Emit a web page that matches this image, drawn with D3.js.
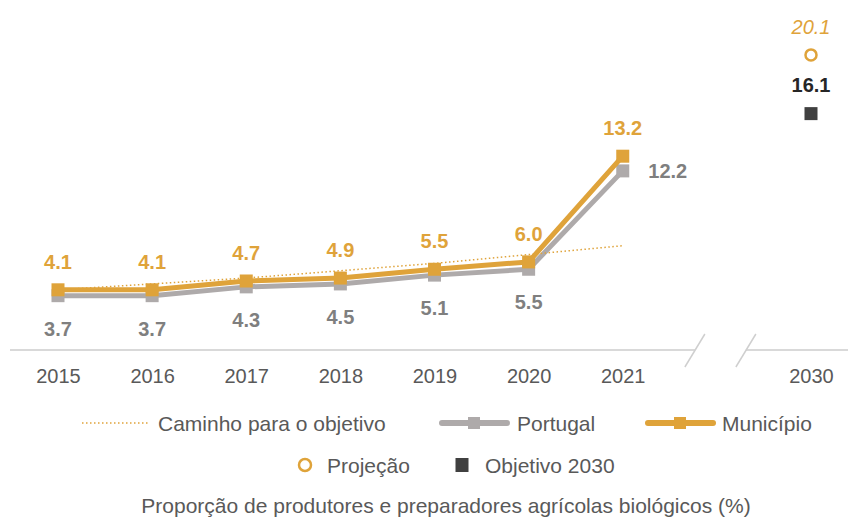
<!DOCTYPE html>
<html>
<head>
<meta charset="utf-8">
<script src="https://cdn.jsdelivr.net/npm/d3@7"></script>
<style>
  html, body { margin: 0; padding: 0; background: #fff; }
  svg { display: block; font-family: "Liberation Sans", Arial, sans-serif; }
</style>
</head>
<body>
<svg id="chart" width="848" height="520"></svg>
<script>
const years = ["2015", "2016", "2017", "2018", "2019", "2020", "2021"];
const municipio = [4.1, 4.1, 4.7, 4.9, 5.5, 6.0, 13.2];
const portugal = [3.7, 3.7, 4.3, 4.5, 5.1, 5.5, 12.2];
const caminho = [4.1, 4.5, 4.9, 5.4, 5.9, 6.5, 7.1];
const targetYear = "2030";
const projecao = 20.1;
const objetivo = 16.1;

const GOLD = "#DFA33A";
const GREY_LINE = "#AEAAAA";
const GREY_TEXT = "#7F7F7F";
const DARK = "#404040";
const AXIS_TEXT = "#595959";

const svg = d3.select("#chart");

const x = d3.scalePoint()
  .domain([...years, "break", targetYear])
  .range([58, 811]);

const y = d3.scaleLinear()
  .domain([0, 22])
  .range([350, 27]);

const AXIS_Y = y(0);
const breakX = x("break");

// axis line, split at the break
svg.append("line")
  .attr("x1", 10).attr("x2", breakX - 22)
  .attr("y1", AXIS_Y).attr("y2", AXIS_Y)
  .attr("stroke", "#D9D9D9").attr("stroke-width", 2);
svg.append("line")
  .attr("x1", breakX + 29).attr("x2", 848)
  .attr("y1", AXIS_Y).attr("y2", AXIS_Y)
  .attr("stroke", "#D9D9D9").attr("stroke-width", 2);

[-22, 29].forEach((dx) => {
  svg.append("line")
    .attr("x1", breakX + dx - 10).attr("y1", AXIS_Y + 17)
    .attr("x2", breakX + dx + 10).attr("y2", AXIS_Y - 16)
    .attr("stroke", "#CFCFCF").attr("stroke-width", 1.5);
});

const xAxis = svg.append("g")
  .attr("transform", `translate(0,${AXIS_Y})`)
  .call(d3.axisBottom(x).tickSize(0).tickPadding(19)
    .tickFormat((d) => (d === "break" ? "" : d)));
xAxis.select(".domain").remove();
xAxis.selectAll("text")
  .attr("font-family", "Liberation Sans, Arial, sans-serif")
  .attr("font-size", 20)
  .attr("fill", AXIS_TEXT);

const line = d3.line()
  .x((d, i) => x(years[i]))
  .y((d) => y(d));

// Portugal
svg.append("path")
  .datum(portugal)
  .attr("d", line)
  .attr("fill", "none")
  .attr("stroke", GREY_LINE)
  .attr("stroke-width", 5)
  .attr("stroke-linejoin", "round");
svg.append("g").selectAll("rect")
  .data(portugal)
  .join("rect")
  .attr("x", (d, i) => x(years[i]) - 6.5)
  .attr("y", (d) => y(d) - 6.5)
  .attr("width", 13).attr("height", 13)
  .attr("fill", GREY_LINE);

// Municipio
svg.append("path")
  .datum(municipio)
  .attr("d", line)
  .attr("fill", "none")
  .attr("stroke", GOLD)
  .attr("stroke-width", 5)
  .attr("stroke-linejoin", "round");
svg.append("g").selectAll("rect")
  .data(municipio)
  .join("rect")
  .attr("x", (d, i) => x(years[i]) - 6.5)
  .attr("y", (d) => y(d) - 6.5)
  .attr("width", 13).attr("height", 13)
  .attr("fill", GOLD);

// Caminho para o objetivo
svg.append("path")
  .datum(caminho)
  .attr("d", line)
  .attr("fill", "none")
  .attr("stroke", GOLD)
  .attr("stroke-width", 1.5)
  .attr("stroke-dasharray", "1.5,2.5");

// labels
const labels = svg.append("g")
  .attr("font-size", 20)
  .attr("font-weight", 700)
  .attr("text-anchor", "middle")
  .attr("dominant-baseline", "central");

labels.selectAll("text.mun")
  .data(municipio)
  .join("text")
  .attr("class", "mun")
  .attr("x", (d, i) => x(years[i]))
  .attr("y", (d) => y(d) - 28)
  .attr("fill", GOLD)
  .text((d) => d.toFixed(1));

labels.selectAll("text.pt")
  .data(portugal)
  .join("text")
  .attr("class", "pt")
  .attr("x", (d, i) => (i === years.length - 1 ? x(years[i]) + 45 : x(years[i])))
  .attr("y", (d, i) => (i === years.length - 1 ? y(d) : y(d) + 33))
  .attr("fill", GREY_TEXT)
  .text((d) => d.toFixed(1));

// 2030
svg.append("circle")
  .attr("cx", x(targetYear))
  .attr("cy", y(projecao))
  .attr("r", 5.5)
  .attr("fill", "#fff")
  .attr("stroke", GOLD)
  .attr("stroke-width", 2.5);
svg.append("text")
  .attr("x", x(targetYear))
  .attr("y", y(projecao) - 28)
  .attr("text-anchor", "middle")
  .attr("dominant-baseline", "central")
  .attr("font-size", 20)
  .attr("font-style", "italic")
  .attr("fill", GOLD)
  .text(projecao.toFixed(1));

svg.append("rect")
  .attr("x", x(targetYear) - 6.5)
  .attr("y", y(objetivo) - 6.5)
  .attr("width", 13).attr("height", 13)
  .attr("fill", DARK);
svg.append("text")
  .attr("x", x(targetYear))
  .attr("y", y(objetivo) - 29)
  .attr("text-anchor", "middle")
  .attr("dominant-baseline", "central")
  .attr("font-size", 20)
  .attr("font-weight", 700)
  .attr("fill", "#262626")
  .text(objetivo.toFixed(1));

// legend
const legend = svg.append("g")
  .attr("font-size", 21)
  .attr("fill", AXIS_TEXT);

const ROW1 = 423;
const ROW2 = 465;

legend.append("line")
  .attr("x1", 82).attr("x2", 150)
  .attr("y1", ROW1).attr("y2", ROW1)
  .attr("stroke", GOLD).attr("stroke-width", 1.5)
  .attr("stroke-dasharray", "1.5,2.5");
legend.append("text").attr("x", 158).attr("y", ROW1)
  .attr("dominant-baseline", "central").text("Caminho para o objetivo");

legend.append("line")
  .attr("x1", 442).attr("x2", 507)
  .attr("y1", ROW1).attr("y2", ROW1)
  .attr("stroke", GREY_LINE).attr("stroke-width", 6)
  .attr("stroke-linecap", "round");
legend.append("rect")
  .attr("x", 474 - 6).attr("y", ROW1 - 6)
  .attr("width", 12).attr("height", 12)
  .attr("fill", GREY_LINE);
legend.append("text").attr("x", 517).attr("y", ROW1)
  .attr("dominant-baseline", "central").text("Portugal");

legend.append("line")
  .attr("x1", 648).attr("x2", 713)
  .attr("y1", ROW1).attr("y2", ROW1)
  .attr("stroke", GOLD).attr("stroke-width", 6)
  .attr("stroke-linecap", "round");
legend.append("rect")
  .attr("x", 680 - 6).attr("y", ROW1 - 6)
  .attr("width", 12).attr("height", 12)
  .attr("fill", GOLD);
legend.append("text").attr("x", 722).attr("y", ROW1)
  .attr("dominant-baseline", "central").text("Município");

legend.append("circle")
  .attr("cx", 305).attr("cy", ROW2).attr("r", 6)
  .attr("fill", "#fff").attr("stroke", GOLD).attr("stroke-width", 2.5);
legend.append("text").attr("x", 327).attr("y", ROW2)
  .attr("dominant-baseline", "central").text("Projeção");

legend.append("rect")
  .attr("x", 462 - 6.5).attr("y", ROW2 - 7)
  .attr("width", 13).attr("height", 14)
  .attr("fill", DARK);
legend.append("text").attr("x", 485).attr("y", ROW2)
  .attr("dominant-baseline", "central").text("Objetivo 2030");

svg.append("text")
  .attr("x", 446).attr("y", 505)
  .attr("text-anchor", "middle")
  .attr("dominant-baseline", "central")
  .attr("font-size", 21)
  .attr("fill", AXIS_TEXT)
  .text("Proporção de produtores e preparadores agrícolas biológicos (%)");
</script>
</body>
</html>
